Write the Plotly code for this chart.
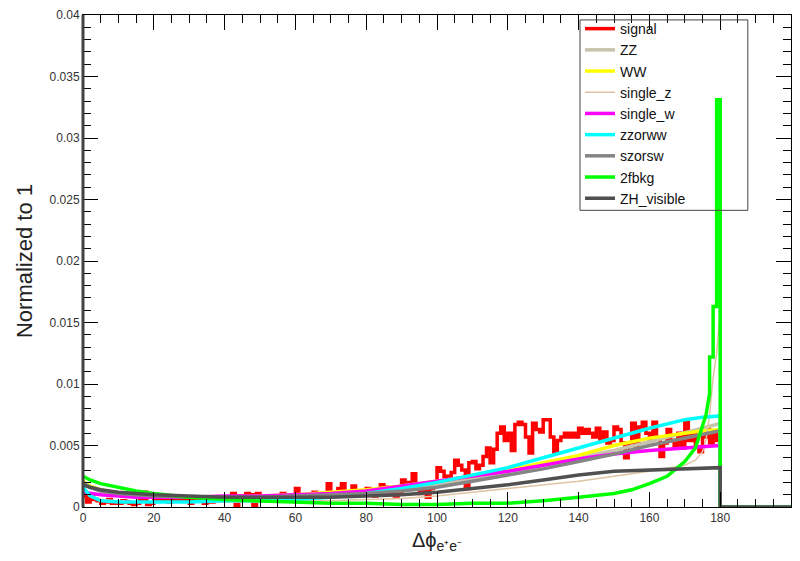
import numpy as np
import plotly.graph_objects as go

# ---------------- data ----------------
# signal: 1-degree bins from 0 to 180
signal_vals = [
    0.0009, 0.0004, 0.0010, 0.0006, 0.0005, 0.0003, 0.0004, 0.0006, 0.0003, 0.0004,
    0.0003, 0.0005, 0.0004, 0.0003, 0.0002, 0.0003, 0.0005, 0.0012, 0.0002, 0.0003,
    0.0006, 0.0008, 0.0005, 0.0007, 0.0004, 0.0006, 0.0008, 0.0005, 0.0007, 0.0006,
    0.0003, 0.0007, 0.0005, 0.0008, 0.0003, 0.0006, 0.0004, 0.0007, 0.0005, 0.0006,
    0.0008, 0.0006, 0.0011, 0.0001, 0.0009, 0.0007, 0.0011, 0.0010, 0.0001, 0.0011,
    0.0006, 0.0009, 0.0007, 0.0008, 0.0006, 0.0009, 0.0011, 0.0007, 0.0008, 0.0009,
    0.0015, 0.0008, 0.0009, 0.0010, 0.0007, 0.0012, 0.0008, 0.0010, 0.0009, 0.0019,
    0.0011, 0.0010, 0.0015, 0.0019, 0.0012, 0.0009, 0.0017, 0.0011, 0.0013, 0.0010,
    0.0015, 0.0012, 0.0009, 0.0014, 0.0018, 0.0016, 0.0011, 0.0013, 0.0009, 0.0012,
    0.0022, 0.0016, 0.0020, 0.0027, 0.0017, 0.0011, 0.0013, 0.0008, 0.0015, 0.0019,
    0.0032, 0.0029, 0.0025, 0.0021, 0.0028, 0.0038, 0.0034, 0.0030, 0.0015, 0.0036,
    0.0037, 0.0031, 0.0034, 0.0041, 0.0048, 0.0036, 0.0047, 0.0060, 0.0065, 0.0054,
    0.0060, 0.0046, 0.0067, 0.0069, 0.0067, 0.0057, 0.0044, 0.0068, 0.0063, 0.0061,
    0.0071, 0.0071, 0.0057, 0.0044, 0.0054, 0.0057, 0.0060, 0.0057, 0.0060, 0.0057,
    0.0064, 0.0060, 0.0063, 0.0060, 0.0057, 0.0064, 0.0054, 0.0061, 0.0052, 0.0054,
    0.0065, 0.0063, 0.0052, 0.0040, 0.0052, 0.0068, 0.0046, 0.0065, 0.0069, 0.0060,
    0.0054, 0.0069, 0.0057, 0.0041, 0.0052, 0.0063, 0.0054, 0.0049, 0.0060, 0.0048,
    0.0069, 0.0054, 0.0060, 0.0049, 0.0045, 0.0057, 0.0063, 0.0052, 0.0060, 0.0054,
]

# smooth backgrounds sampled at these angles
x_smooth = [0, 2, 5, 10, 15, 20, 30, 40, 50, 60, 70, 80, 90, 100, 110, 120,
            130, 140, 150, 160, 170, 175, 180]
zz_vals = [0.0019, 0.0016, 0.0013, 0.0011, 0.0010, 0.0009, 0.0008, 0.0008, 0.0008,
           0.0009, 0.0010, 0.0012, 0.0014, 0.0018, 0.0023, 0.0028, 0.0034, 0.0040,
           0.0046, 0.0053, 0.0060, 0.0064, 0.0068]
ww_vals = [0.0021, 0.0017, 0.0014, 0.0011, 0.0010, 0.0009, 0.0008, 0.0008, 0.0009,
           0.0010, 0.0012, 0.0014, 0.0017, 0.0021, 0.0025, 0.0030, 0.0036, 0.0042,
           0.0050, 0.0056, 0.0060, 0.0062, 0.0063]
single_w_vals = [0.0012, 0.0011, 0.0010, 0.0009, 0.0008, 0.0008, 0.0008, 0.0009, 0.0009,
                 0.0010, 0.0011, 0.0013, 0.0017, 0.0021, 0.0025, 0.0029, 0.0034, 0.0039,
                 0.0043, 0.0046, 0.0048, 0.0049, 0.0050]
zzorww_vals = [0.0016, 0.0009, 0.0005, 0.0004, 0.0004, 0.0004, 0.0004, 0.0005, 0.0005,
               0.0006, 0.0008, 0.0011, 0.0015, 0.0020, 0.0026, 0.0032, 0.0040, 0.0048,
               0.0056, 0.0064, 0.0071, 0.0073, 0.0074]
szorsw_vals = [0.0020, 0.0016, 0.0013, 0.0011, 0.0010, 0.0009, 0.0008, 0.0008, 0.0008,
               0.0009, 0.0010, 0.0011, 0.0013, 0.0016, 0.0021, 0.0026, 0.0031, 0.0037,
               0.0043, 0.0050, 0.0056, 0.0059, 0.0062]
zh_vals = [0.0018, 0.0016, 0.0014, 0.0012, 0.0011, 0.0010, 0.0009, 0.0008, 0.0008,
           0.0008, 0.0008, 0.0009, 0.0010, 0.0012, 0.0015, 0.0018, 0.0022, 0.0026,
           0.0029, 0.0030, 0.0031, 0.0031, 0.0032]

single_z_x = [0, 2, 5, 10, 15, 20, 30, 40, 50, 60, 70, 80, 90, 100, 110, 120, 130,
              140, 150, 160, 170, 173, 175, 176, 177, 178, 179, 180]
single_z_vals = [0.0016, 0.0010, 0.0006, 0.0005, 0.0004, 0.0004, 0.0004, 0.0004, 0.0004,
                 0.0005, 0.0005, 0.0006, 0.0007, 0.0009, 0.0012, 0.0015, 0.0018, 0.0021,
                 0.0025, 0.0029, 0.0034, 0.0038, 0.0045, 0.0055, 0.0075, 0.0105, 0.0125,
                 0.0160]

fbkg_x = [0, 2, 5, 10, 15, 20, 30, 40, 50, 60, 70, 80, 90, 100, 110, 120, 130, 140,
          150, 155, 160, 165, 170, 173, 175, 176, 177, 177, 178, 178, 179, 179, 180]
fbkg_vals = [0.0025, 0.0022, 0.0019, 0.0016, 0.0013, 0.0011, 0.0008, 0.0006, 0.0005,
             0.0004, 0.0003, 0.0003, 0.0002, 0.0002, 0.0003, 0.0003, 0.0005, 0.0008,
             0.0011, 0.0014, 0.0019, 0.0025, 0.0037, 0.0048, 0.0065, 0.0075, 0.0092,
             0.0122, 0.0122, 0.0163, 0.0163, 0.0331, 0.0331]

x_end = [180, 200]     # histograms are empty beyond 180
y_end = [0, 0]

y_tickvals = [0, 0.005, 0.01, 0.015, 0.02, 0.025, 0.03, 0.035, 0.04]
y_ticktext = ["0", "0.005", "0.01", "0.015", "0.02", "0.025", "0.03", "0.035", "0.04"]
x_tickvals = [0, 20, 40, 60, 80, 100, 120, 140, 160, 180, 200]

# ---------------- figure ----------------
fig = go.Figure()

edges = list(np.arange(len(signal_vals)))
fig.add_trace(go.Scatter(
    x=edges + [180] + x_end, y=signal_vals + [signal_vals[-1]] + y_end,
    mode="lines", line=dict(color="#ff0000", width=3.5, shape="hv"), name="signal"))

def smooth(name, xs, ys, color, width):
    fig.add_trace(go.Scatter(
        x=list(xs) + x_end, y=list(ys) + y_end, mode="lines",
        line=dict(color=color, width=width), name=name))

smooth("ZZ", x_smooth, zz_vals, "#c8c3ac", 3.5)
smooth("WW", x_smooth, ww_vals, "#ffff00", 3.5)
smooth("single_z", single_z_x, single_z_vals, "#dfc3a2", 1.5)
smooth("single_w", x_smooth, single_w_vals, "#ff00ff", 3.5)
smooth("zzorww", x_smooth, zzorww_vals, "#00ffff", 3.5)
smooth("szorsw", x_smooth, szorsw_vals, "#858585", 3.5)
smooth("2fbkg", fbkg_x, fbkg_vals, "#00ff00", 3.5)
smooth("ZH_visible", x_smooth, zh_vals, "#505050", 3.5)

axis_common = dict(
    showgrid=False, zeroline=False, showline=True, linecolor="black", linewidth=1,
    mirror="ticks", ticks="inside", ticklen=15, tickcolor="black", tickwidth=1,
    tickfont=dict(size=12, color="#333333"),
)

fig.update_xaxes(
    range=[0, 200], tickvals=x_tickvals,
    minor=dict(ticks="inside", ticklen=8, dtick=5, tick0=0, tickcolor="black", showgrid=False),
    title=dict(text="Δϕ<sub>e⁺e⁻</sub>", font=dict(size=20, color="#222222"), standoff=8),
    **axis_common)
fig.update_yaxes(
    range=[0, 0.04], tickvals=y_tickvals, ticktext=y_ticktext,
    minor=dict(ticks="inside", ticklen=8, dtick=0.001, tick0=0, tickcolor="black", showgrid=False),
    title=dict(text="Normalized to 1", font=dict(size=22, color="#222222"), standoff=10),
    **axis_common)

# thick left frame edge
fig.add_shape(type="line", xref="x domain", yref="y domain", x0=0, x1=0, y0=0, y1=1,
              line=dict(color="#444444", width=3))
# legend frame (transparent box, like the ROOT legend)
fig.add_shape(type="rect", xref="paper", yref="paper",
              x0=0.702, x1=0.939, y0=0.603, y1=0.990,
              line=dict(color="#444444", width=1), fillcolor="rgba(0,0,0,0)")

fig.update_layout(
    width=800, height=561,
    margin=dict(l=83, r=9, t=15, b=54),
    paper_bgcolor="white", plot_bgcolor="white",
    font=dict(family="Liberation Sans, Arial, sans-serif", color="#222222"),
    legend=dict(x=0.702, y=1.004, xanchor="left", yanchor="top",
                bgcolor="rgba(0,0,0,0)", borderwidth=0,
                font=dict(size=14, color="#111111"), itemwidth=30,
                tracegroupgap=0),
)

fig.write_html("out.html")
